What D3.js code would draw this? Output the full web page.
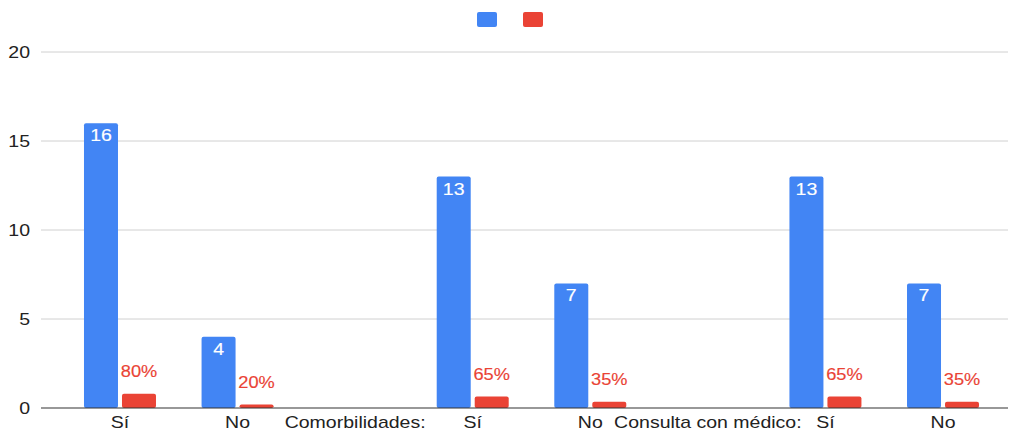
<!DOCTYPE html>
<html>
<head>
<meta charset="utf-8">
<script src="https://cdn.jsdelivr.net/npm/d3@7"></script>
<style>
  body { margin: 0; background: #fff; }
  text { font-family: Arial, "Liberation Sans", sans-serif; }
</style>
</head>
<body>
<div id="chart"></div>
<script>
const categories = ["Sí", "No", "Comorbilidades:", "Sí", "No", "Consulta con médico:", "Sí", "No"];
const counts = [16, 4, null, 13, 7, null, 13, 7];
const shares = [0.8, 0.2, null, 0.65, 0.35, null, 0.65, 0.35];
const shareLabels = ["80%", "20%", null, "65%", "35%", null, "65%", "35%"];
const yTicks = [0, 5, 10, 15, 20];
const seriesColors = ["#4285f4", "#ea4335"];

const width = 1011, height = 430;
const sx = 1.22; // text in the picture is stretched sideways

const svg = d3.select("#chart").append("svg")
  .attr("width", width)
  .attr("height", height);

const x = d3.scaleBand()
  .domain(d3.range(categories.length))
  .range([61.2, 1001.8]);

const x1 = d3.scaleBand()
  .domain(["count", "share"])
  .range([x.bandwidth() / 2 - 36, x.bandwidth() / 2 + 36])
  .paddingInner(4 / 38);

const y = d3.scaleLinear()
  .domain([0, 20])
  .range([408, 52]);

// gridlines
svg.append("g").selectAll("line")
  .data(yTicks.filter(d => d !== 0))
  .join("line")
  .attr("x1", 41).attr("x2", 1008)
  .attr("y1", d => y(d)).attr("y2", d => y(d))
  .attr("stroke", "#d0d0d0")
  .attr("stroke-width", 1);

// y labels
svg.append("g").selectAll("text")
  .data(yTicks)
  .join("text")
  .attr("transform", d => `translate(30,${y(d) + 5.8}) scale(${sx},1)`)
  .attr("text-anchor", "end")
  .attr("font-size", 16)
  .attr("fill", "#222")
  .text(d => d);

const idx = d3.range(categories.length);

// blue bars
svg.append("g").selectAll("rect")
  .data(idx.filter(i => counts[i] != null))
  .join("rect")
  .attr("x", i => x(i) + x1("count"))
  .attr("y", i => y(counts[i]))
  .attr("width", x1.bandwidth())
  .attr("height", i => y(0) - y(counts[i]))
  .attr("rx", 2)
  .attr("fill", seriesColors[0]);

// red bars
svg.append("g").selectAll("rect")
  .data(idx.filter(i => shares[i] != null))
  .join("rect")
  .attr("x", i => x(i) + x1("share"))
  .attr("y", i => y(shares[i]))
  .attr("width", x1.bandwidth())
  .attr("height", i => y(0) - y(shares[i]))
  .attr("rx", 2)
  .attr("fill", seriesColors[1]);

// baseline
svg.append("line")
  .attr("x1", 41).attr("x2", 1008)
  .attr("y1", y(0)).attr("y2", y(0))
  .attr("stroke", "#333")
  .attr("stroke-width", 1.2);

// value labels in blue bars
svg.append("g").selectAll("text")
  .data(idx.filter(i => counts[i] != null))
  .join("text")
  .attr("transform", i => `translate(${x(i) + x1("count") + x1.bandwidth() / 2},${y(counts[i]) + 18}) scale(${sx},1)`)
  .attr("text-anchor", "middle")
  .attr("font-size", 16)
  .attr("fill", "#fff")
  .attr("stroke", "#fff")
  .attr("stroke-width", 0.15)
  .text(i => counts[i]);

// percent labels above red bars
svg.append("g").selectAll("text")
  .data(idx.filter(i => shares[i] != null))
  .join("text")
  .attr("transform", i => `translate(${x(i) + x1("share") + x1.bandwidth() / 2},${y(shares[i]) - 16.5}) scale(1.14,1)`)
  .attr("text-anchor", "middle")
  .attr("font-size", 16)
  .attr("fill", seriesColors[1])
  .attr("stroke", seriesColors[1])
  .attr("stroke-width", 0.15)
  .text(i => shareLabels[i]);

// x labels
svg.append("g").selectAll("text")
  .data(idx)
  .join("text")
  .attr("transform", i => `translate(${x(i) + x.bandwidth() / 2},427.5) scale(${sx},1)`)
  .attr("text-anchor", "middle")
  .attr("font-size", 16)
  .attr("fill", "#222")
  .text(i => categories[i]);

// legend (no series names)
svg.append("g").selectAll("rect")
  .data(seriesColors)
  .join("rect")
  .attr("x", (d, i) => 477 + i * 46)
  .attr("y", 12)
  .attr("width", 20)
  .attr("height", 15)
  .attr("rx", 2)
  .attr("fill", d => d);
</script>
</body>
</html>
